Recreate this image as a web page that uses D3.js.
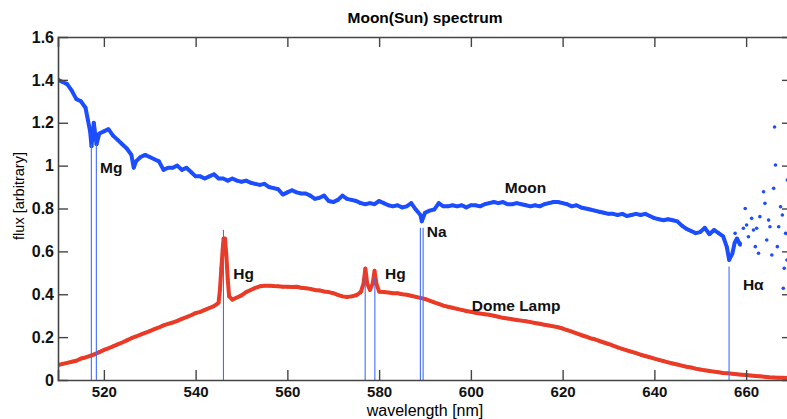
<!DOCTYPE html>
<html>
<head>
<meta charset="utf-8">
<script src="https://cdn.jsdelivr.net/npm/d3@7"></script>
<style>
  body { margin: 0; background: #fff; }
  text { font-family: "Liberation Sans", Arial, sans-serif; }
</style>
</head>
<body>
<div id="container"></div>
<script>
// chart size and plot box
const width = 787, height = 419;
const margin = {left: 58, top: 37, right: -5, bottom: 39};

// Moon spectrum, main part (nm, arbitrary flux)
const moonWl = [510,511,512,513,514,515,516,517,517.3,517.8,518.4,519,520,521,522,523,524,525,526,526.5,527,528,529,530,
  531,532,533,534,535,536,537,538,539,540,541,542,543,544,545,546,547,548,549,550,551,552,553,554,555,556,557,558,559,560,
  561,562,563,564,565,566,567,568,569,570,571,572,573,574,575,576,577,578,579,580,581,582,583,584,585,586,587,588,589,589.3,
  590,591,592,593,594,595,596,597,598,599,600,601,602,603,604,605,606,607,608,609,610,611,612,613,614,615,616,617,618,619,
  620,621,622,623,624,625,626,627,628,629,630,631,632,633,634,635,636,637,638,639,640,641,642,643,644,645,646,647,648,649,
  650,651,652,653,654,655,655.8,656.3,657,657.5,658,658.7];
const moonFlux = [1.40,1.39,1.38,1.35,1.31,1.30,1.27,1.16,1.09,1.20,1.10,1.15,1.16,1.17,1.14,1.12,1.10,1.08,1.05,0.99,1.02,1.04,1.05,1.04,
  1.03,1.02,0.98,0.99,0.99,1.00,0.98,0.99,0.97,0.95,0.95,0.94,0.95,0.96,0.94,0.94,0.93,0.94,0.93,0.925,0.93,0.92,0.915,0.91,0.915,0.90,0.895,0.89,0.865,0.875,
  0.885,0.875,0.87,0.87,0.86,0.845,0.85,0.86,0.835,0.83,0.84,0.86,0.845,0.84,0.835,0.825,0.82,0.825,0.82,0.835,0.825,0.815,0.81,0.815,0.805,0.81,0.825,0.795,0.77,0.74,
  0.78,0.79,0.795,0.825,0.81,0.81,0.815,0.81,0.815,0.805,0.815,0.815,0.81,0.82,0.825,0.83,0.825,0.83,0.82,0.82,0.825,0.82,0.815,0.81,0.815,0.81,0.82,0.825,0.83,0.83,
  0.825,0.82,0.81,0.815,0.805,0.80,0.795,0.79,0.785,0.78,0.775,0.775,0.77,0.775,0.765,0.77,0.775,0.77,0.775,0.765,0.755,0.75,0.745,0.75,0.745,0.74,0.72,0.705,0.695,0.685,
  0.69,0.71,0.68,0.70,0.685,0.67,0.62,0.56,0.59,0.64,0.66,0.63];

// Moon spectrum, noisy red end (scattered points)
const moonTailWl = [657.6,658.7,659.4,659.8,660.1,660.5,661.2,661.6,662,662.3,662.7,663,663.8,664.1,664.5,664.9,665.2,665.6,
  666,666.2,666.4,666.8,667.1,667.5,667.9,668.1,668.3,668.6,668.9,669];
const moonTailFlux = [0.684,0.638,0.708,0.80,0.723,0.668,0.754,0.70,0.622,0.708,0.591,0.762,0.878,0.824,0.653,0.746,0.715,0.583,
  0.894,1.18,1.003,0.622,0.715,0.808,0.77,0.428,0.521,0.684,0.56,0.933];

// Dome lamp spectrum
const lampWl = [510,511,512,513,514,515,516,517,518,519,520,521,522,523,524,525,526,527,528,529,530,531,532,533,534,535,536,
  537,538,539,540,541,542,543,544,545,545.3,545.6,545.9,546.1,546.4,546.7,547,547.3,548,549,550,551,552,553,554,555,556,557,
  558,559,560,561,562,563,564,565,566,567,568,569,570,571,572,573,574,575,576,576.6,577,577.4,578,578.6,579,579.4,580,581,582,
  583,584,585,586,587,588,589,590,591,592,593,594,595,596,597,598,599,600,601,602,603,604,605,606,607,608,609,610,611,612,613,
  614,615,616,617,618,619,620,621,622,623,624,625,626,627,628,629,630,631,632,633,634,635,636,637,638,639,640,641,642,643,644,
  645,646,647,648,649,650,651,652,653,654,655,656,657,658,659,660,661,662,663,664,665,666,667,668,669,670];
const lampFlux = [0.07,0.075,0.08,0.085,0.09,0.10,0.105,0.113,0.12,0.13,0.14,0.148,0.157,0.166,0.175,0.185,0.195,0.203,0.212,0.22,
  0.228,0.237,0.245,0.255,0.262,0.268,0.276,0.285,0.293,0.302,0.312,0.318,0.327,0.336,0.345,0.36,0.42,0.52,0.61,0.66,0.66,0.58,0.47,0.39,
  0.375,0.385,0.395,0.41,0.42,0.43,0.437,0.44,0.44,0.438,0.437,0.435,0.435,0.434,0.435,0.43,0.428,0.425,0.42,0.418,0.413,0.41,0.405,
  0.397,0.39,0.387,0.39,0.395,0.41,0.45,0.52,0.45,0.42,0.45,0.51,0.45,0.412,0.41,0.408,0.405,0.405,0.40,0.398,0.393,0.388,0.383,0.378,
  0.37,0.362,0.355,0.347,0.342,0.337,0.332,0.327,0.322,0.318,0.314,0.31,0.307,0.304,0.30,0.295,0.29,0.287,0.283,0.28,0.277,0.274,0.27,
  0.266,0.262,0.258,0.254,0.25,0.246,0.24,0.233,0.226,0.218,0.21,0.203,0.195,0.19,0.182,0.175,0.168,0.16,0.152,0.145,0.138,0.132,0.125,
  0.118,0.112,0.106,0.10,0.094,0.088,0.082,0.077,0.072,0.067,0.062,0.058,0.053,0.049,0.045,0.042,0.039,0.036,0.033,0.031,0.029,0.027,
  0.025,0.023,0.021,0.019,0.017,0.015,0.013,0.012,0.011,0.01,0.009,0.008];

// spectral line markers
const lineWl = [517.27, 518.36, 546.07, 576.96, 579.07, 588.99, 589.59, 656.28];
const lineTop = [1.10, 1.10, 0.70, 0.48, 0.48, 0.71, 0.71, 0.53];

// annotations (text, wavelength, flux at baseline)
const labelText = ["Mg", "Hg", "Hg", "Na", "Moon", "Dome Lamp", "H\u03b1"];
const labelWl = [519.15, 548.2, 581.3, 590.4, 607.4, 600.2, 659.3];
const labelFlux = [0.965, 0.471, 0.471, 0.667, 0.872, 0.32, 0.42];

const xTicks = [520, 540, 560, 580, 600, 620, 640, 660];
const yTicks = [0, 0.2, 0.4, 0.6, 0.8, 1, 1.2, 1.4, 1.6];

const blue = "#1c4dff", red = "#ea3b26", axisCol = "#444";

const x = d3.scaleLinear().domain([510, 670]).range([margin.left, width - margin.right]);
const y = d3.scaleLinear().domain([0, 1.6]).range([height - margin.bottom, margin.top]);

const svg = d3.select("#container").append("svg")
  .attr("width", width).attr("height", height);

svg.append("clipPath").attr("id", "plot")
  .append("rect").attr("x", x(510)).attr("y", y(1.6))
  .attr("width", x(670) - x(510)).attr("height", y(0) - y(1.6));

const plot = svg.append("g").attr("clip-path", "url(#plot)");

// draws one series as a thick band of dots
function series(wl, flux, color, withLine) {
  const pts = wl.map((d, i) => [d, flux[i]]);
  if (withLine) {
    plot.append("path")
      .datum(pts)
      .attr("fill", "none")
      .attr("stroke", color)
      .attr("stroke-width", 4)
      .attr("stroke-linejoin", "round")
      .attr("d", d3.line().x(d => x(d[0])).y(d => y(d[1])));
  }
  plot.append("g").selectAll("circle")
    .data(pts)
    .join("circle")
    .attr("cx", d => x(d[0]))
    .attr("cy", d => y(d[1]))
    .attr("r", 1.8)
    .attr("fill", color);
}

series(lampWl, lampFlux, red, true);
series(moonWl, moonFlux, blue, true);
series(moonTailWl, moonTailFlux, blue, false);

// marker lines, on top of the spectra
plot.selectAll("line.mark")
  .data(lineWl)
  .join("line")
  .attr("class", "mark")
  .attr("x1", d => x(d)).attr("x2", d => x(d))
  .attr("y1", (d, i) => y(lineTop[i])).attr("y2", y(0))
  .attr("stroke", "#3f6dff").attr("stroke-width", 1.1);

// labels
svg.selectAll("text.lab")
  .data(labelText)
  .join("text")
  .attr("class", "lab")
  .attr("x", (d, i) => x(labelWl[i]))
  .attr("y", (d, i) => y(labelFlux[i]))
  .attr("font-size", 15.5).attr("font-weight", "bold").attr("fill", "#111")
  .text(d => d);

// axes with inward ticks
const fmt = d => d === 0 ? "0" : d3.format("")(d);
const axes = [
  svg.append("g").attr("transform", `translate(0,${y(0)})`)
    .call(d3.axisBottom(x).tickValues(xTicks).tickSize(-10).tickPadding(6)),
  svg.append("g").attr("transform", `translate(0,${y(1.6)})`)
    .call(d3.axisTop(x).tickValues(xTicks).tickSize(-10).tickFormat("")),
  svg.append("g").attr("transform", `translate(${x(510)},0)`)
    .call(d3.axisLeft(y).tickValues(yTicks).tickSize(-10).tickPadding(4).tickFormat(fmt)),
  svg.append("g").attr("transform", `translate(${x(670)},0)`)
    .call(d3.axisRight(y).tickValues(yTicks).tickSize(-10).tickFormat(""))
];
axes.forEach(g => {
  g.select(".domain").attr("stroke", axisCol).attr("stroke-width", 1.6);
  g.selectAll(".tick line").attr("stroke", axisCol).attr("stroke-width", 1.4);
  g.selectAll(".tick text").attr("font-size", 16).attr("font-weight", "bold")
    .attr("fill", "#111").attr("font-family", "Liberation Sans, Arial, sans-serif");
});
axes[0].selectAll(".tick text").attr("font-size", 15);
// drop the end ticks that sit on the frame
axes[2].selectAll(".tick").filter(d => d === 0 || d === 1.6).select("line").remove();
axes[3].selectAll(".tick").filter(d => d === 0 || d === 1.6).select("line").remove();

// titles
svg.append("text")
  .attr("x", (x(510) + x(670)) / 2).attr("y", 23)
  .attr("text-anchor", "middle").attr("font-size", 15.5).attr("font-weight", "bold")
  .text("Moon(Sun) spectrum");

svg.append("text")
  .attr("x", (x(510) + x(670)) / 2).attr("y", 415.5)
  .attr("text-anchor", "middle").attr("font-size", 16)
  .text("wavelength [nm]");

svg.append("text")
  .attr("transform", "translate(24,196) rotate(-90)")
  .attr("text-anchor", "middle").attr("font-size", 14.5)
  .text("flux [arbitrary]");
</script>
</body>
</html>
